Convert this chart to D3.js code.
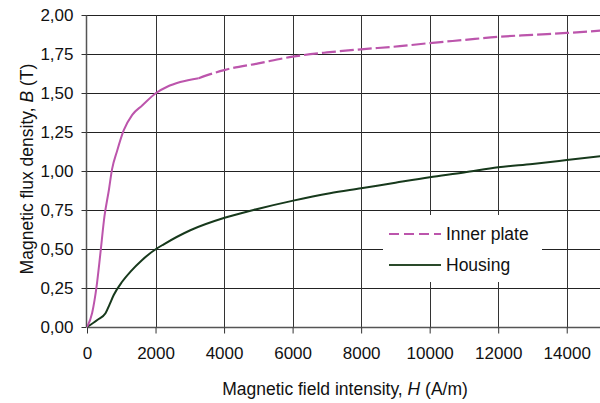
<!DOCTYPE html>
<html>
<head>
<meta charset="utf-8">
<script src="https://cdn.jsdelivr.net/npm/d3@7"></script>
<style>
  html, body { margin: 0; padding: 0; background: #fff; }
  svg { display: block; font-family: "Liberation Sans", Arial, sans-serif; }
</style>
</head>
<body>
<svg id="chart" width="600" height="403"></svg>
<script>
// ---- data ----
const innerPlateH = [0, 150, 280, 390, 510, 640, 730, 880, 1070, 1320, 1610, 2015, 2340, 2720, 3260, 4000, 5000, 6000, 7000, 8000, 9130, 10000, 11000, 12000, 13000, 14000, 15000];
const innerPlateB = [0, 0.09, 0.26, 0.47, 0.71, 0.88, 1.01, 1.13, 1.26, 1.36, 1.42, 1.50, 1.54, 1.57, 1.595, 1.647, 1.69, 1.733, 1.76, 1.78, 1.80, 1.82, 1.84, 1.86, 1.873, 1.885, 1.90];
const housingH = [0, 300, 540, 660, 780, 1025, 1270, 1610, 2015, 2240, 3015, 4015, 4860, 6020, 7090, 8000, 9000, 10000, 11000, 12000, 13000, 14000, 15000];
const housingB = [0, 0.045, 0.088, 0.145, 0.205, 0.29, 0.355, 0.43, 0.50, 0.53, 0.62, 0.70, 0.75, 0.81, 0.857, 0.889, 0.925, 0.96, 0.99, 1.024, 1.045, 1.07, 1.096];
const xTicks = [0, 2000, 4000, 6000, 8000, 10000, 12000, 14000];
const yTicks = [0, 0.25, 0.5, 0.75, 1.0, 1.25, 1.5, 1.75, 2.0];
const seriesNames = ["Inner plate", "Housing"];

// ---- layout ----
const svg = d3.select("#chart");
const pL = 87, pR = 601, pT = 15, pB = 327;
const x = d3.scaleLinear().domain([0, 15000]).range([pL, pR]);
const y = d3.scaleLinear().domain([0, 2]).range([pB, pT]);
const fmtY = d => d3.format(".2f")(d).replace(".", ",");

// gridlines
const g = svg.append("g");
g.selectAll("line.hg").data(yTicks.filter(d => d > 0)).join("line")
  .attr("x1", pL).attr("x2", 600)
  .attr("y1", d => Math.round(y(d)) + 0.5).attr("y2", d => Math.round(y(d)) + 0.5)
  .attr("stroke", "#222").attr("stroke-width", 1);
g.selectAll("line.vg").data(xTicks.filter(d => d > 0)).join("line")
  .attr("x1", d => Math.round(x(d)) + 0.5).attr("x2", d => Math.round(x(d)) + 0.5)
  .attr("y1", pT).attr("y2", pB)
  .attr("stroke", "#333").attr("stroke-width", 1);

// axes
const xAxis = svg.append("g").attr("transform", `translate(0,${pB + 0.5})`)
  .call(d3.axisBottom(x).tickValues(xTicks).tickSize(6).tickPadding(13).tickFormat(d3.format("d")));
const yAxis = svg.append("g").attr("transform", `translate(${pL - 0.5},0)`)
  .call(d3.axisLeft(y).tickValues(yTicks).tickSize(5).tickPadding(8).tickFormat(fmtY));
[xAxis, yAxis].forEach(a => {
  a.select(".domain").attr("stroke", "#555").attr("stroke-width", 1.5);
  a.selectAll(".tick line").attr("stroke", "#333");
  a.selectAll(".tick text").attr("fill", "#111").attr("font-size", 17)
    .attr("font-family", "'Liberation Sans', Arial, sans-serif");
});
xAxis.select(".domain").attr("d", `M${pL},0H600`);
yAxis.select(".domain").attr("d", `M0,${pT}V${pB}`);

// lines
const innerData = innerPlateH.map((h, i) => ({h, b: innerPlateB[i]}));
const housingData = housingH.map((h, i) => ({h, b: housingB[i]}));
const line = d3.line().x(d => x(d.h)).y(d => y(d.b)).curve(d3.curveMonotoneX);
svg.append("clipPath").attr("id", "clip").append("rect")
  .attr("x", pL).attr("y", 0).attr("width", 600 - pL).attr("height", pB + 1);
const plot = svg.append("g").attr("clip-path", "url(#clip)");
plot.append("path").datum(housingData).attr("d", line)
  .attr("fill", "none").attr("stroke", "#17391c").attr("stroke-width", 2);
plot.append("path").datum(innerData.filter(d => d.h <= 3260)).attr("d", line)
  .attr("fill", "none").attr("stroke", "#bc55ac").attr("stroke-width", 2);
plot.append("path").datum(innerData.filter(d => d.h >= 3260)).attr("d", line)
  .attr("fill", "none").attr("stroke", "#bc55ac").attr("stroke-width", 2.2)
  .attr("stroke-dasharray", "14,4");

// legend
const lg = svg.append("g");
lg.append("rect").attr("x", 383).attr("y", 215).attr("width", 159).attr("height", 67).attr("fill", "#fff");
const legendItems = [
  {name: seriesNames[0], color: "#bc55ac", dash: "10,5", y: 234},
  {name: seriesNames[1], color: "#2a4a2a", dash: null, y: 265}
];
legendItems.forEach(it => {
  lg.append("line").attr("x1", 389).attr("x2", 441).attr("y1", it.y).attr("y2", it.y)
    .attr("stroke", it.color).attr("stroke-width", 2.2)
    .attr("stroke-dasharray", it.dash);
  lg.append("text").attr("x", 446).attr("y", it.y).attr("dy", "0.35em")
    .attr("font-size", 17.5).attr("fill", "#111").text(it.name);
});

// axis titles
const xt = svg.append("text").attr("x", 345).attr("y", 395).attr("text-anchor", "middle")
  .attr("font-size", 17.5).attr("fill", "#111");
xt.append("tspan").text("Magnetic field intensity, ");
xt.append("tspan").attr("font-style", "italic").text("H");
xt.append("tspan").text(" (A/m)");

const yt = svg.append("text").attr("transform", "translate(27,169) rotate(-90)")
  .attr("text-anchor", "middle").attr("dy", "0.35em").attr("font-size", 17.5).attr("fill", "#111");
yt.append("tspan").text("Magnetic flux density, ");
yt.append("tspan").attr("font-style", "italic").text("B");
yt.append("tspan").text(" (T)");
</script>
</body>
</html>
